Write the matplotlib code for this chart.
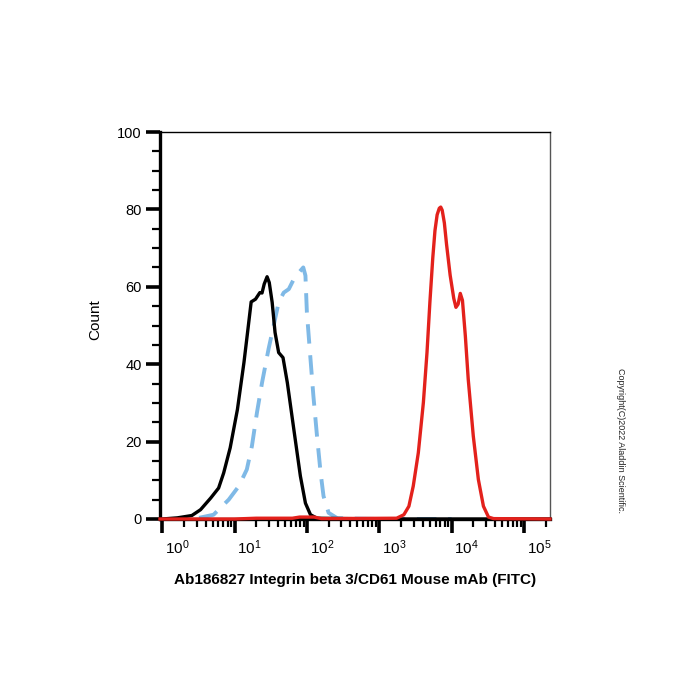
import numpy as np
import matplotlib
matplotlib.use("Agg")
import matplotlib.pyplot as plt
from matplotlib.ticker import FixedLocator, NullFormatter, FixedFormatter
import matplotlib.transforms as mtransforms

plt.rcParams['font.family'] = ['Liberation Sans', 'DejaVu Sans']
plt.rcParams['mathtext.fontset'] = 'custom'
plt.rcParams['mathtext.rm'] = 'Liberation Sans'
plt.rcParams['mathtext.it'] = 'Liberation Sans'

# Data (log10 fluorescence, count)
black_log = [0.0, 0.21, 0.41, 0.53, 0.67, 0.78, 0.85, 0.94, 1.04, 1.13, 1.18, 1.23, 1.29, 1.35,
             1.38, 1.41, 1.45, 1.48, 1.52, 1.56, 1.61, 1.67, 1.73, 1.82, 1.91, 1.98, 2.05,
             2.14, 3.0, 4.0, 5.36]
black_cnt = [0.0, 0.3, 0.9, 2.4, 5.4, 8.0, 11.9, 18.4, 28.3, 40.4, 48.2, 56.1, 56.8, 58.5,
             58.4, 60.7, 62.6, 61.1, 56.0, 48.2, 43.0, 41.7, 35.2, 23.1, 11.1, 4.1, 1.1,
             0.2, 0.0, 0.0, 0.0]

blue_log = [0.51, 0.71, 0.92, 1.06, 1.17, 1.24, 1.31, 1.38, 1.47, 1.54, 1.61, 1.68, 1.75,
            1.82, 1.89, 1.95, 1.98, 2.00, 2.05, 2.09, 2.14, 2.19, 2.23, 2.30, 2.42, 3.0, 4.0]
blue_cnt = [0.3, 1.1, 5.0, 8.5, 12.8, 18.8, 27.5, 35.2, 43.9, 49.9, 56.0, 58.5, 59.4,
            62.0, 63.7, 65.0, 62.9, 53.4, 41.3, 31.8, 21.4, 11.9, 5.9, 1.6, 0.2, 0.0, 0.0]

red_log = [-0.03, 1.0, 1.3, 1.8, 1.9, 2.1, 2.2, 3.24, 3.34, 3.41, 3.47, 3.54, 3.61, 3.66,
           3.70, 3.74, 3.77, 3.80, 3.83, 3.85, 3.87, 3.90, 3.93, 3.98, 4.03, 4.06, 4.09,
           4.12, 4.15, 4.19, 4.23, 4.30, 4.37, 4.44, 4.51, 4.58, 5.36]
red_cnt = [0.0, 0.0, 0.2, 0.2, 0.5, 0.5, 0.1, 0.2, 1.1, 3.3, 8.5, 17.1, 30.1, 43.0,
           56.0, 67.5, 74.5, 78.6, 80.3, 80.6, 79.8, 76.5, 71.0, 63.0, 57.0, 54.7, 55.5,
           58.3, 56.5, 47.3, 36.1, 21.4, 10.2, 3.3, 0.5, 0.1, 0.0]

decades = [0, 1, 2, 3, 4, 5]
decade_labels = [r'$10^{%d}$' % d for d in decades]
y_ticks = [0, 20, 40, 60, 80, 100]

fig = plt.figure(figsize=(7, 7), dpi=100)
ax = fig.add_axes([160/700, 1-519/700, 390/700, 387/700])

ax.plot(10**np.array(black_log), black_cnt, color='black', lw=2.4, clip_on=False, zorder=3,
        solid_joinstyle='round')
ax.plot(10**np.array(blue_log), blue_cnt, color='#7fb9e6', lw=2.8, ls=(0, (5, 3)),
        clip_on=False, zorder=2)
ax.plot(10**np.array(red_log), red_cnt, color='#e3211c', lw=2.4, clip_on=False, zorder=4,
        solid_joinstyle='round')

ax.set_xscale('log')
ax.set_xlim(10**-0.03, 10**5.36)
ax.set_ylim(0, 100)

ax.xaxis.set_major_locator(FixedLocator([10.0**d for d in decades]))
ax.xaxis.set_major_formatter(FixedFormatter(decade_labels))
minors = [m * 10.0**d for d in range(0, 5) for m in range(2, 10)] + [2e5]
ax.xaxis.set_minor_locator(FixedLocator(minors))
ax.xaxis.set_minor_formatter(NullFormatter())

ax.yaxis.set_major_locator(FixedLocator(y_ticks))
ax.yaxis.set_minor_locator(FixedLocator([v for v in range(5, 100, 5) if v % 20]))

ax.tick_params(axis='both', which='major', direction='out', length=10, width=2.6,
               labelsize=10.5, color='black')
ax.tick_params(axis='x', which='major', labelsize=11)
ax.tick_params(axis='both', which='minor', direction='out', length=6, width=1.6)
ax.tick_params(axis='x', which='major', pad=4)
ax.tick_params(axis='y', which='major', pad=3)

offset = mtransforms.ScaledTranslation(15/100, 0, fig.dpi_scale_trans)
for lab in ax.get_xticklabels():
    lab.set_transform(lab.get_transform() + offset)

ax.spines['left'].set_linewidth(2.4)
ax.spines['bottom'].set_linewidth(2.4)
ax.spines['top'].set_linewidth(1.0)
ax.spines['right'].set_linewidth(1.0)
ax.spines['right'].set_color('#555555')

fig.text(95/700, 1-320/700, 'Count', rotation=90, ha='center', va='center', fontsize=11)
fig.text(355/700, 1-580/700, 'Ab186827 Integrin beta 3/CD61 Mouse mAb (FITC)',
         ha='center', va='center', fontsize=11, fontweight='bold')
fig.text(620/700, 1-440/700, 'Copyright(C)2022 Aladdin Scientific.', rotation=-90,
         ha='center', va='center', fontsize=6.5, color='#222222')

fig.savefig('out.png', dpi=100)
